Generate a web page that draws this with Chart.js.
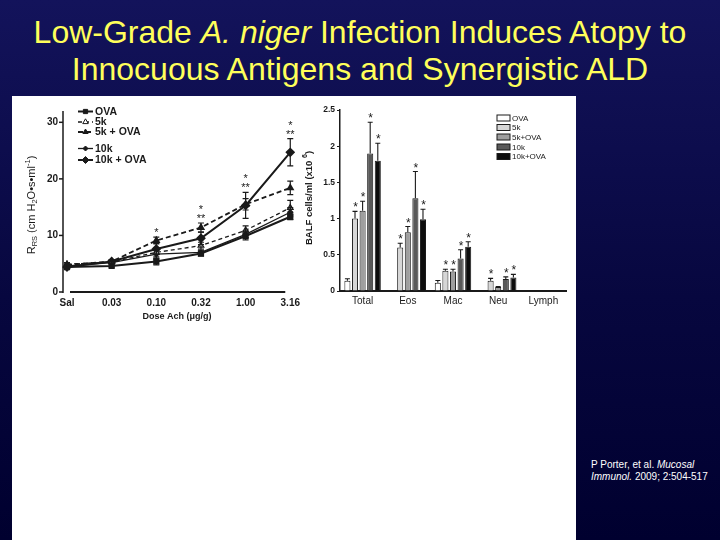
<!DOCTYPE html>
<html><head><meta charset="utf-8">
<script src="https://cdn.jsdelivr.net/npm/chart.js@4"></script>
<style>
html,body{margin:0;padding:0;width:720px;height:540px;overflow:hidden;}
body{position:relative;background:linear-gradient(180deg,#13135b 0%,#07073f 55%,#00002f 100%);font-family:"Liberation Sans",Arial,sans-serif;}
#title{position:absolute;left:0;top:14px;width:720px;text-align:center;color:#ffff5a;font-size:32px;line-height:37px;white-space:nowrap;}
#panel{position:absolute;left:12px;top:96px;width:564px;height:444px;background:#fff;}
#w1{position:absolute;left:12px;top:96px;width:293px;height:240px;}
#w2{position:absolute;left:300px;top:96px;width:276px;height:240px;}
#cite{position:absolute;left:591px;top:459px;color:#fff;font-size:10px;line-height:12px;}
</style></head>
<body>
<div id="title">Low-Grade <i>A. niger</i> Infection Induces Atopy to<br>Innocuous Antigens and Synergistic ALD</div>
<div id="panel"></div>
<div id="w1"><canvas id="c1" width="293" height="240"></canvas></div>
<div id="w2"><canvas id="c2" width="276" height="240"></canvas></div>
<div id="cite">P Porter, et al. <i>Mucosal<br>Immunol.</i> 2009; 2:504-517</div>
<script>
// ---------- Left chart data ----------
const doses = ['Sal','0.03','0.10','0.32','1.00','3.16'];
const ova       = [4.4, 4.6, 5.4, 6.8, 9.9, 13.3];
const ovaErr    = [0.3, 0.2, 0.6, 0.4, 0.7, 0.5];
const k5        = [4.9, 5.3, 7.0, 8.2, 10.9, 14.9];
const k5Err     = [0.3, 0.2, 0.8, 0.6, 0.8, 1.3];
const k5ova     = [4.8, 5.4, 9.1, 11.4, 15.5, 18.4];
const k5ovaErr  = [0.3, 0.3, 0.6, 0.8, 1.0, 1.2];
const k10       = [4.6, 5.2, 6.7, 7.0, 10.2, 14.1];
const k10Err    = [0.3, 0.2, 0.9, 0.4, 0.6, 0.8];
const k10ova    = [4.4, 5.4, 7.6, 9.5, 15.3, 24.7];
const k10ovaErr = [0.4, 0.3, 1.0, 1.1, 2.3, 2.4];
const doseSig   = [[], [], ['*'], ['*','**'], ['*','**'], ['*','**']];
const lineTicks = [0, 10, 20, 30];

// ---------- Right chart data ----------
const cellTypes  = ['Total','Eos','Mac','Neu','Lymph'];
const bOva       = [0.14, 0.01, 0.115, 0.01, 0.01];
const bOvaErr    = [0.03, 0, 0.03, 0, 0];
const b5k        = [1.00, 0.60, 0.28, 0.14, 0.01];
const b5kErr     = [0.10, 0.06, 0.02, 0.035, 0];
const b5kOva     = [1.11, 0.81, 0.27, 0.055, 0.01];
const b5kOvaErr  = [0.13, 0.08, 0.03, 0.005, 0];
const b10k       = [1.90, 1.28, 0.45, 0.165, 0.01];
const b10kErr    = [0.43, 0.37, 0.12, 0.03, 0];
const b10kOva    = [1.80, 0.99, 0.61, 0.185, 0.01];
const b10kOvaErr = [0.24, 0.14, 0.07, 0.045, 0];
const sigOva     = [0,0,0,0,0];
const sig5k      = [1,1,1,1,0];
const sig5kOva   = [1,1,1,0,0];
const sig10k     = [1,1,1,1,0];
const sig10kOva  = [1,1,1,1,0];
const barTicks   = [0, 0.5, 1, 1.5, 2, 2.5];

const FONT = '"Liberation Sans", Arial, sans-serif';
Chart.defaults.font.family = FONT;
Chart.defaults.color = '#1a1a1a';

function drawSegments(ctx, cx, cy, segs){
  ctx.save();
  ctx.translate(cx, cy);
  ctx.rotate(-Math.PI/2);
  ctx.fillStyle = '#1a1a1a';
  ctx.textBaseline = 'middle';
  let total = 0;
  segs.forEach(s=>{ctx.font = s[2]+' '+s[1]+'px '+FONT; total += ctx.measureText(s[0]).width;});
  let x = -total/2;
  segs.forEach(s=>{ctx.font = s[2]+' '+s[1]+'px '+FONT; ctx.textAlign='left'; ctx.fillText(s[0], x, s[3]); x += ctx.measureText(s[0]).width;});
  ctx.restore();
}

// ---------- Left chart ----------
const lineErrs = [ovaErr, k5Err, k5ovaErr, k10Err, k10ovaErr];
const lineDecor = {
  id:'lineDecor',
  afterDatasetsDraw(chart){
    const ctx = chart.ctx, ca = chart.chartArea, ys = chart.scales.y;
    ctx.save();
    ctx.strokeStyle = '#1a1a1a';
    ctx.lineWidth = 1.2;
    chart.data.datasets.forEach((ds, di)=>{
      const meta = chart.getDatasetMeta(di);
      meta.data.forEach((pt, i)=>{
        const e = lineErrs[di][i]; if(!e) return;
        const y1 = ys.getPixelForValue(ds.data[i]+e), y2 = ys.getPixelForValue(ds.data[i]-e);
        ctx.beginPath();
        ctx.moveTo(pt.x, y1); ctx.lineTo(pt.x, y2);
        ctx.moveTo(pt.x-3, y1); ctx.lineTo(pt.x+3, y1);
        ctx.moveTo(pt.x-3, y2); ctx.lineTo(pt.x+3, y2);
        ctx.stroke();
      });
    });
    const ax = ca.left - 4, y0 = ys.getPixelForValue(0);
    ctx.lineWidth = 1.5;
    ctx.beginPath(); ctx.moveTo(ax, ca.top); ctx.lineTo(ax, y0+1); ctx.stroke();
    ys.ticks.forEach(t=>{const y = ys.getPixelForValue(t.value); ctx.beginPath(); ctx.moveTo(ax-4, y); ctx.lineTo(ax, y); ctx.stroke();});
    ctx.lineWidth = 2.2;
    ctx.beginPath(); ctx.moveTo(ca.left+3, y0); ctx.lineTo(ca.right-5, y0); ctx.stroke();
    ctx.fillStyle = '#1a1a1a';
    ctx.font = '11px '+FONT;
    ctx.textAlign = 'center';
    ctx.textBaseline = 'alphabetic';
    const xs = chart.scales.x;
    doseSig.forEach((marks, i)=>{
      if(!marks.length) return;
      let top = -Infinity;
      chart.data.datasets.forEach((ds, di)=>{ top = Math.max(top, ds.data[i] + lineErrs[di][i]); });
      let y = ys.getPixelForValue(top) - 7;
      const x = xs.getPixelForValue(i);
      for(let m = marks.length-1; m >= 0; m--){ ctx.fillText(marks[m], x, y + 6); y -= 9; }
    });
    const ly = [15.5, 26, 36, 52.5, 64];
    chart.data.datasets.forEach((ds, di)=>{
      const y = ly[di];
      ctx.save();
      ctx.strokeStyle = '#1a1a1a';
      ctx.lineWidth = ds.borderWidth;
      ctx.setLineDash(ds.borderDash || []);
      ctx.beginPath(); ctx.moveTo(66, y); ctx.lineTo(81, y); ctx.stroke();
      ctx.setLineDash([]);
      ctx.fillStyle = ds.pointBackgroundColor; ctx.lineWidth = 1;
      Chart.helpers.drawPoint(ctx, {pointStyle: ds.pointStyle, radius: ds.pointRadius, borderWidth: 1, rotation: 0}, 73.5, y);
      ctx.restore();
      ctx.fillStyle = '#1a1a1a';
      ctx.font = 'bold 10.5px '+FONT;
      ctx.textAlign = 'left'; ctx.textBaseline = 'middle';
      ctx.fillText(ds.label, 83, y+0.5);
    });
    drawSegments(ctx, 20, 109, [
      ['R',11,'normal',0],['RS',7.5,'normal',2.5],[' (cm H',11,'normal',0],['2',7.5,'normal',2.5],
      ['O\u2022s\u2022ml',11,'normal',0],['-1',7.5,'normal',-4],[')',11,'normal',0]]);
    ctx.font = 'bold 9px '+FONT; ctx.textAlign='center'; ctx.textBaseline='middle'; ctx.fillStyle='#1a1a1a';
    ctx.fillText('Dose Ach (\u03bcg/g)', 165, 221);
    ctx.restore();
  }
};

new Chart(document.getElementById('c1'), {
  type: 'line',
  data: {
    labels: doses,
    datasets: [
      {label:'OVA', data: ova, borderColor:'#1a1a1a', borderWidth:2, pointStyle:'rect', pointRadius:3,
       pointBackgroundColor:'#1a1a1a', pointBorderColor:'#1a1a1a', tension:0},
      {label:'5k', data: k5, borderColor:'#1a1a1a', borderWidth:1.3, borderDash:[4,3], pointStyle:'triangle', pointRadius:3.2,
       pointBackgroundColor:'#ffffff', pointBorderColor:'#1a1a1a', tension:0},
      {label:'5k + OVA', data: k5ova, borderColor:'#1a1a1a', borderWidth:1.8, borderDash:[5,3], pointStyle:'triangle', pointRadius:3,
       pointBackgroundColor:'#1a1a1a', pointBorderColor:'#1a1a1a', tension:0},
      {label:'10k', data: k10, borderColor:'#1a1a1a', borderWidth:1.3, pointStyle:'rectRot', pointRadius:2.5,
       pointBackgroundColor:'#1a1a1a', pointBorderColor:'#1a1a1a', tension:0},
      {label:'10k + OVA', data: k10ova, borderColor:'#1a1a1a', borderWidth:2, pointStyle:'rectRot', pointRadius:3.5,
       pointBackgroundColor:'#1a1a1a', pointBorderColor:'#1a1a1a', tension:0}
    ]
  },
  options: {
    responsive:false, animation:false,
    layout:{padding:{top:8, right:10, left:0, bottom:0}},
    plugins:{legend:{display:false}, tooltip:{enabled:false}},
    scales:{
      x:{grid:{display:false, drawTicks:false}, border:{display:false},
         ticks:{font:{size:10, weight:'bold'}, padding:5, maxRotation:0},
         afterFit(s){ s.height = 44; }},
      y:{min:0, max:32, grid:{display:false, drawTicks:false}, border:{display:false},
         ticks:{font:{size:10, weight:'bold'}, padding:9},
         afterBuildTicks(s){ s.ticks = lineTicks.map(v=>({value:v})); },
         afterFit(s){ s.width = 55; }}
    }
  },
  plugins:[lineDecor]
});

// ---------- Right chart ----------
const barErrs = [bOvaErr, b5kErr, b5kOvaErr, b10kErr, b10kOvaErr];
const barSigs = [sigOva, sig5k, sig5kOva, sig10k, sig10kOva];
const barDecor = {
  id:'barDecor',
  afterDatasetsDraw(chart){
    const ctx = chart.ctx, ys = chart.scales.y;
    ctx.save();
    ctx.strokeStyle = '#1a1a1a'; ctx.lineWidth = 1.1;
    ctx.fillStyle = '#1a1a1a';
    chart.data.datasets.forEach((ds, di)=>{
      const meta = chart.getDatasetMeta(di);
      meta.data.forEach((bar, i)=>{
        const v = ds.data[i], e = barErrs[di][i];
        const yTop = ys.getPixelForValue(v + e);
        if(e > 0){
          const yb = ys.getPixelForValue(v);
          ctx.beginPath(); ctx.moveTo(bar.x, yb); ctx.lineTo(bar.x, yTop);
          ctx.moveTo(bar.x-2.5, yTop); ctx.lineTo(bar.x+2.5, yTop); ctx.stroke();
        }
        if(barSigs[di][i]){
          ctx.font = '12px '+FONT; ctx.textAlign='center'; ctx.textBaseline='alphabetic';
          ctx.fillText('*', bar.x+0.5, yTop);
        }
      });
    });
    const ly = [22, 31.5, 41, 51, 60.5];
    chart.data.datasets.forEach((ds, di)=>{
      const y = ly[di];
      ctx.fillStyle = ds.backgroundColor; ctx.fillRect(197, y-3, 13, 6);
      ctx.strokeStyle = '#1a1a1a'; ctx.lineWidth = 1; ctx.strokeRect(197, y-3, 13, 6);
      ctx.fillStyle = '#1a1a1a'; ctx.font = '8px '+FONT; ctx.textAlign='left'; ctx.textBaseline='middle';
      ctx.fillText(ds.label, 212, y+0.5);
    });
    drawSegments(ctx, 9, 102, [['BALF cells/ml (x10 ',9.5,'bold',0],['6',7,'bold',-4],[')',9.5,'bold',0]]);
    ctx.restore();
  }
};

const barCommon = {borderColor:'#1a1a1a', borderWidth:1, categoryPercentage:0.84, barPercentage:0.8};
new Chart(document.getElementById('c2'), {
  type:'bar',
  data:{
    labels: cellTypes,
    datasets:[
      Object.assign({label:'OVA', data:bOva, backgroundColor:'#ffffff'}, barCommon),
      Object.assign({label:'5k', data:b5k, backgroundColor:'#d6d6d6'}, barCommon),
      Object.assign({label:'5k+OVA', data:b5kOva, backgroundColor:'#9e9e9e'}, barCommon),
      Object.assign({label:'10k', data:b10k, backgroundColor:'#595959'}, barCommon),
      Object.assign({label:'10k+OVA', data:b10kOva, backgroundColor:'#0d0d0d'}, barCommon)
    ]
  },
  options:{
    responsive:false, animation:false,
    layout:{padding:{top:14, right:10, left:0, bottom:0}},
    plugins:{legend:{display:false}, tooltip:{enabled:false}},
    scales:{
      x:{grid:{display:false, drawTicks:false}, border:{display:true, color:'#1a1a1a', width:2},
         ticks:{font:{size:10}, padding:4, maxRotation:0},
         afterFit(s){ s.height = 45; }},
      y:{min:0, max:2.5, border:{display:true, color:'#1a1a1a', width:1.5},
         grid:{drawOnChartArea:false, drawTicks:true, tickLength:3, color:'#1a1a1a'},
         ticks:{font:{size:8.5, weight:'bold'}, padding:2, callback:(v)=>String(v)},
         afterBuildTicks(s){ s.ticks = barTicks.map(v=>({value:v})); },
         afterFit(s){ s.width = 40; }}
    }
  },
  plugins:[barDecor]
});
</script>
</body></html>
